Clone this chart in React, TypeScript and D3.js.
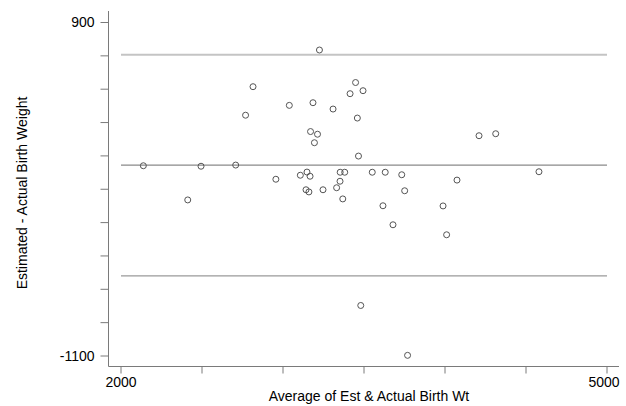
import React from "react";
import * as d3 from "d3";

const avgWeight = [
  3225, 3448, 3494, 3414, 2815, 3039, 3185, 3309, 3459, 2769, 3170, 3213, 3194, 3466,
  4210, 4313, 4580, 2138, 2494, 2708, 2956, 2412, 3107, 3148, 3167, 3142, 3160, 3247,
  3353, 3381, 3352, 3331, 3369, 3551, 3631, 3617, 3733, 3751, 3679, 4074, 3988, 4010,
  3480, 3769,
];
const diffWeight = [
  735, 540, 491, 473, 515, 403, 419, 381, 327, 344, 246, 230, 179, 99,
  221, 233, 5, 41, 38, 45, -40, -164, -16, 3, -22, -103, -116, -103,
  2, 2, -52, -91, -158, 2, 2, -199, -13, -109, -313, -45, -200, -373,
  -797, -1096,
];
const meanDiff = 45;
const upperLimit = 707;
const lowerLimit = -620;
const xTicks = [2000, 2500, 3000, 3500, 4000, 4500, 5000];
const xTickLabels = ["2000", "", "", "", "", "", "5000"];
const yTicks = [900, 700, 500, 300, 100, -100, -300, -500, -700, -900, -1100];
const yTickLabels = ["900", "", "", "", "", "", "", "", "", "", "-1100"];

const W = 626;
const H = 406;
const axisX = 108.5;
const axisY = 366.5;
const font = "'Liberation Sans', Arial, sans-serif";
const axisColor = "#7a7a7a";

export default function App() {
  const x = d3.scaleLinear().domain([2000, 5000]).range([121, 607]);
  const y = d3.scaleLinear().domain([900, -1100]).range([22.5, 356]);

  const refLines = [
    { v: upperLimit, color: "#c4c4c4", w: 2 },
    { v: meanDiff, color: "#8a8a8a", w: 1.2 },
    { v: lowerLimit, color: "#9a9a9a", w: 1.2 },
  ];

  return (
    <svg
      width={W}
      height={H}
      style={{ position: "absolute", left: 0, top: 0, background: "#fff" }}
    >
      {/* reference lines */}
      {refLines.map((l, i) => (
        <line
          key={i}
          x1={x(2000)}
          x2={x(5000)}
          y1={y(l.v)}
          y2={y(l.v)}
          stroke={l.color}
          strokeWidth={l.w}
        />
      ))}

      {/* axes */}
      <line x1={axisX} x2={axisX} y1={11} y2={axisY} stroke={axisColor} strokeWidth={1} />
      <line x1={axisX} x2={619} y1={axisY} y2={axisY} stroke={axisColor} strokeWidth={1} />

      {yTicks.map((t, i) => (
        <g key={"y" + t}>
          <line x1={axisX - 8} x2={axisX} y1={y(t)} y2={y(t)} stroke={axisColor} strokeWidth={1} />
          {yTickLabels[i] && (
            <text
              x={94.5}
              y={y(t)}
              dy="0.35em"
              textAnchor="end"
              fontFamily={font}
              fontSize={14}
              fill="#000"
            >
              {yTickLabels[i]}
            </text>
          )}
        </g>
      ))}

      {xTicks.map((t, i) => (
        <g key={"x" + t}>
          <line x1={x(t)} x2={x(t)} y1={axisY} y2={axisY + 7} stroke={axisColor} strokeWidth={1} />
          {xTickLabels[i] && (
            <text
              x={x(t) + (i === xTicks.length - 1 ? -3 : 0)}
              y={387}
              textAnchor="middle"
              fontFamily={font}
              fontSize={14}
              fill="#000"
            >
              {xTickLabels[i]}
            </text>
          )}
        </g>
      ))}

      {/* points */}
      {avgWeight.map((a, i) => (
        <circle
          key={i}
          cx={x(a)}
          cy={y(diffWeight[i])}
          r={3}
          fill="none"
          stroke="#555"
          strokeWidth={1}
        />
      ))}

      {/* titles */}
      <text
        x={369}
        y={400.5}
        textAnchor="middle"
        fontFamily={font}
        fontSize={14}
        fill="#000"
      >
        Average of Est &amp; Actual Birth Wt
      </text>
      <text
        transform={`translate(27,193) rotate(-90)`}
        textAnchor="middle"
        fontFamily={font}
        fontSize={14}
        fill="#000"
      >
        Estimated - Actual Birth Weight
      </text>
    </svg>
  );
}
